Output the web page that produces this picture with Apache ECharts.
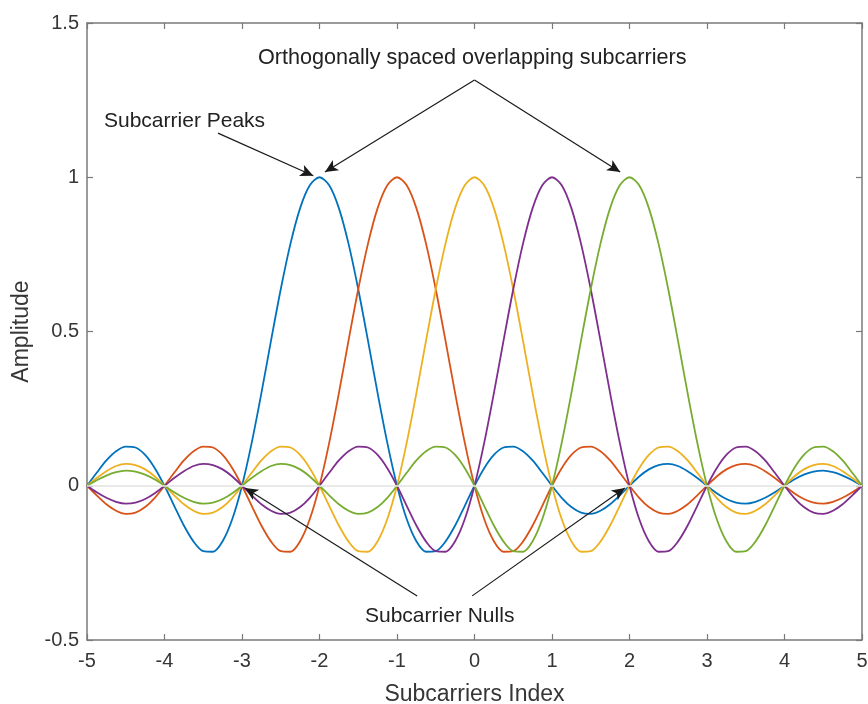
<!DOCTYPE html>
<html>
<head>
<meta charset="utf-8">
<script src="https://cdn.jsdelivr.net/npm/echarts@6/dist/echarts.min.js"></script>
<style>
  html, body { margin: 0; padding: 0; background: #fff; }
  #chart { width: 868px; height: 704px; }
</style>
</head>
<body>
<div id="chart"></div>
<script>
// subcarrier index samples (x axis)
const xs = [
  -5, -4.875, -4.75, -4.625, -4.5, -4.375, -4.25, -4.125,
  -4, -3.875, -3.75, -3.625, -3.5, -3.375, -3.25, -3.125,
  -3, -2.875, -2.75, -2.625, -2.5, -2.375, -2.25, -2.125,
  -2, -1.875, -1.75, -1.625, -1.5, -1.375, -1.25, -1.125,
  -1, -0.875, -0.75, -0.625, -0.5, -0.375, -0.25, -0.125,
  0, 0.125, 0.25, 0.375, 0.5, 0.625, 0.75, 0.875,
  1, 1.125, 1.25, 1.375, 1.5, 1.625, 1.75, 1.875,
  2, 2.125, 2.25, 2.375, 2.5, 2.625, 2.75, 2.875,
  3, 3.125, 3.25, 3.375, 3.5, 3.625, 3.75, 3.875,
  4, 4.125, 4.25, 4.375, 4.5, 4.625, 4.75, 4.875,
  5
];

// amplitude of each subcarrier
const blue = [
  0, 0.042, 0.082, 0.112, 0.127, 0.124, 0.100, 0.057,
  0, -0.065, -0.129, -0.181, -0.212, -0.214, -0.180, -0.108,
  0, 0.139, 0.300, 0.471, 0.637, 0.784, 0.900, 0.974,
  1, 0.974, 0.900, 0.784, 0.637, 0.471, 0.300, 0.139,
  0, -0.108, -0.180, -0.214, -0.212, -0.181, -0.129, -0.065,
  0, 0.057, 0.100, 0.124, 0.127, 0.112, 0.082, 0.042,
  0, -0.039, -0.069, -0.087, -0.091, -0.081, -0.060, -0.031,
  0, 0.030, 0.053, 0.067, 0.071, 0.064, 0.047, 0.025,
  0, -0.024, -0.043, -0.055, -0.058, -0.052, -0.039, -0.021,
  0, 0.020, 0.036, 0.046, 0.049, 0.044, 0.033, 0.018,
  0
];
const red = [
  0, -0.031, -0.060, -0.081, -0.091, -0.087, -0.069, -0.039,
  0, 0.042, 0.082, 0.112, 0.127, 0.124, 0.100, 0.057,
  0, -0.065, -0.129, -0.181, -0.212, -0.214, -0.180, -0.108,
  0, 0.139, 0.300, 0.471, 0.637, 0.784, 0.900, 0.974,
  1, 0.974, 0.900, 0.784, 0.637, 0.471, 0.300, 0.139,
  0, -0.108, -0.180, -0.214, -0.212, -0.181, -0.129, -0.065,
  0, 0.057, 0.100, 0.124, 0.127, 0.112, 0.082, 0.042,
  0, -0.039, -0.069, -0.087, -0.091, -0.081, -0.060, -0.031,
  0, 0.030, 0.053, 0.067, 0.071, 0.064, 0.047, 0.025,
  0, -0.024, -0.043, -0.055, -0.058, -0.052, -0.039, -0.021,
  0
];
const yellow = [
  0, 0.025, 0.047, 0.064, 0.071, 0.067, 0.053, 0.030,
  0, -0.031, -0.060, -0.081, -0.091, -0.087, -0.069, -0.039,
  0, 0.042, 0.082, 0.112, 0.127, 0.124, 0.100, 0.057,
  0, -0.065, -0.129, -0.181, -0.212, -0.214, -0.180, -0.108,
  0, 0.139, 0.300, 0.471, 0.637, 0.784, 0.900, 0.974,
  1, 0.974, 0.900, 0.784, 0.637, 0.471, 0.300, 0.139,
  0, -0.108, -0.180, -0.214, -0.212, -0.181, -0.129, -0.065,
  0, 0.057, 0.100, 0.124, 0.127, 0.112, 0.082, 0.042,
  0, -0.039, -0.069, -0.087, -0.091, -0.081, -0.060, -0.031,
  0, 0.030, 0.053, 0.067, 0.071, 0.064, 0.047, 0.025,
  0
];
const purple = [
  0, -0.021, -0.039, -0.052, -0.058, -0.055, -0.043, -0.024,
  0, 0.025, 0.047, 0.064, 0.071, 0.067, 0.053, 0.030,
  0, -0.031, -0.060, -0.081, -0.091, -0.087, -0.069, -0.039,
  0, 0.042, 0.082, 0.112, 0.127, 0.124, 0.100, 0.057,
  0, -0.065, -0.129, -0.181, -0.212, -0.214, -0.180, -0.108,
  0, 0.139, 0.300, 0.471, 0.637, 0.784, 0.900, 0.974,
  1, 0.974, 0.900, 0.784, 0.637, 0.471, 0.300, 0.139,
  0, -0.108, -0.180, -0.214, -0.212, -0.181, -0.129, -0.065,
  0, 0.057, 0.100, 0.124, 0.127, 0.112, 0.082, 0.042,
  0, -0.039, -0.069, -0.087, -0.091, -0.081, -0.060, -0.031,
  0
];
const green = [
  0, 0.018, 0.033, 0.044, 0.049, 0.046, 0.036, 0.020,
  0, -0.021, -0.039, -0.052, -0.058, -0.055, -0.043, -0.024,
  0, 0.025, 0.047, 0.064, 0.071, 0.067, 0.053, 0.030,
  0, -0.031, -0.060, -0.081, -0.091, -0.087, -0.069, -0.039,
  0, 0.042, 0.082, 0.112, 0.127, 0.124, 0.100, 0.057,
  0, -0.065, -0.129, -0.181, -0.212, -0.214, -0.180, -0.108,
  0, 0.139, 0.300, 0.471, 0.637, 0.784, 0.900, 0.974,
  1, 0.974, 0.900, 0.784, 0.637, 0.471, 0.300, 0.139,
  0, -0.108, -0.180, -0.214, -0.212, -0.181, -0.129, -0.065,
  0, 0.057, 0.100, 0.124, 0.127, 0.112, 0.082, 0.042,
  0
];

const seriesList = [blue, red, yellow, purple, green];
const colors = ['#0072BD', '#D95319', '#EDB120', '#7E2F8E', '#77AC30'];

// annotation arrows, [from, to] in data coordinates
const arrows = [
  [[-3.31, 1.143], [-2.08, 1.005]],
  [[0.0, 1.315], [-1.93, 1.017]],
  [[0.0, 1.315], [1.88, 1.017]],
  [[-0.74, -0.357], [-2.96, -0.007]],
  [[-0.03, -0.357], [1.94, -0.007]]
];

const font = '"Liberation Sans", Arial, sans-serif';
const axisGray = '#7a7a7a';
const textColor = '#363636';

const chart = echarts.init(document.getElementById('chart'));

const baseAxis = {
  type: 'value',
  axisLine: { show: true, onZero: false, lineStyle: { color: axisGray, width: 1.5 } },
  axisTick: { show: true, inside: true, length: 6, lineStyle: { color: axisGray, width: 1.2 } },
  splitLine: { show: false }
};

const series = seriesList.map((vals, k) => ({
  type: 'line',
  data: xs.map((x, i) => [x, vals[i]]),
  showSymbol: false,
  smooth: 0.3,
  lineStyle: { color: colors[k], width: 1.8 },
  itemStyle: { color: colors[k] },
  silent: true,
  z: 3
}));

// faint zero line
series.unshift({
  type: 'line',
  data: [],
  silent: true,
  z: 1,
  markLine: {
    silent: true,
    symbol: ['none', 'none'],
    label: { show: false },
    lineStyle: { color: '#e2e2e2', width: 1.5, type: 'solid' },
    data: [{ yAxis: 0 }]
  }
});

// black annotation arrows
series.push({
  type: 'line',
  data: [],
  silent: true,
  z: 5,
  markLine: {
    silent: true,
    animation: false,
    symbol: ['none', 'arrow'],
    symbolSize: [9, 13],
    label: { show: false },
    lineStyle: { color: '#1a1a1a', width: 1.2, type: 'solid' },
    data: arrows.map(a => [
      { coord: a[0] },
      { coord: a[1] }
    ])
  }
});

chart.setOption({
  animation: false,
  backgroundColor: '#fff',
  grid: { left: 87, right: 6, top: 23, bottom: 64, outerBoundsMode: 'none', containLabel: false },
  xAxis: [
    Object.assign({}, baseAxis, {
      min: -5, max: 5, interval: 1,
      position: 'bottom',
      name: 'Subcarriers Index',
      nameLocation: 'middle',
      nameGap: 43,
      nameTextStyle: { fontFamily: font, fontSize: 23, color: textColor },
      axisLabel: { fontFamily: font, fontSize: 20, color: textColor, margin: 11 }
    }),
    Object.assign({}, baseAxis, {
      min: -5, max: 5, interval: 1,
      position: 'top',
      axisLabel: { show: false }
    })
  ],
  yAxis: [
    Object.assign({}, baseAxis, {
      min: -0.5, max: 1.5, interval: 0.5,
      position: 'left',
      name: 'Amplitude',
      nameLocation: 'middle',
      nameGap: 53,
      nameTextStyle: { fontFamily: font, fontSize: 23, color: textColor },
      axisLabel: { fontFamily: font, fontSize: 20, color: textColor, margin: 8 }
    }),
    Object.assign({}, baseAxis, {
      min: -0.5, max: 1.5, interval: 0.5,
      position: 'right',
      axisLabel: { show: false }
    })
  ],
  graphic: [
    {
      type: 'text', left: 258, top: 47,
      style: { text: 'Orthogonally spaced overlapping subcarriers', font: '21.6px ' + font, fill: '#222' }
    },
    {
      type: 'text', left: 104, top: 111,
      style: { text: 'Subcarrier Peaks', font: '21px ' + font, fill: '#222' }
    },
    {
      type: 'text', left: 365, top: 606,
      style: { text: 'Subcarrier Nulls', font: '21px ' + font, fill: '#222' }
    }
  ],
  series: series
});
</script>
</body>
</html>
